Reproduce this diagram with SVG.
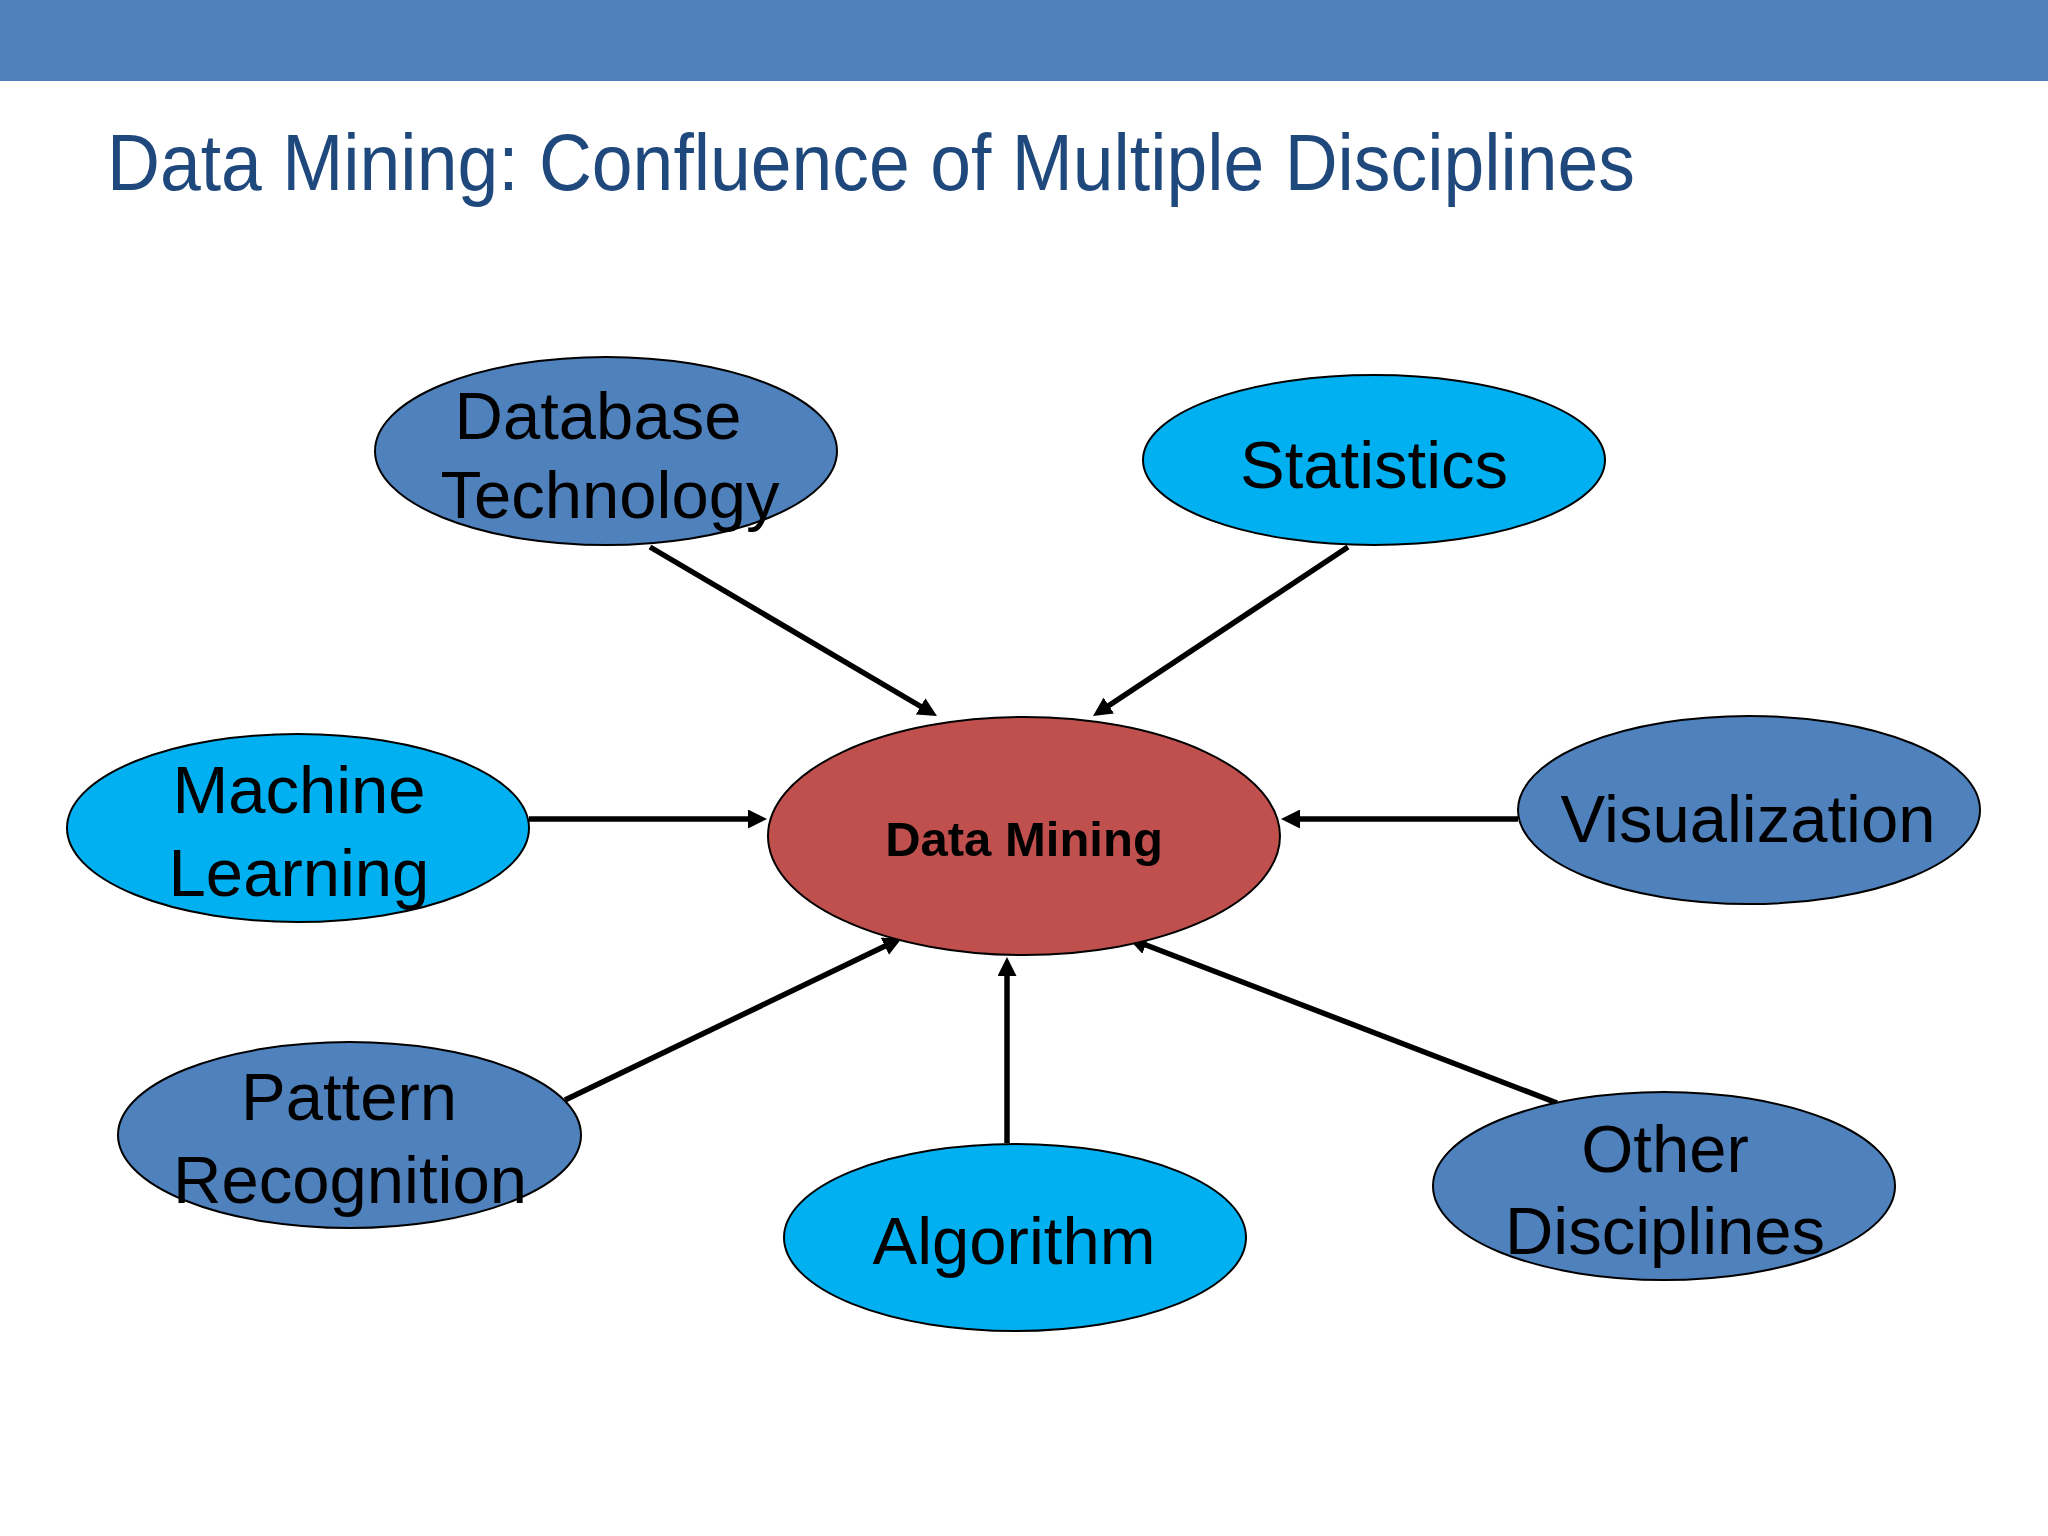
<svg xmlns="http://www.w3.org/2000/svg" width="2048" height="1536" viewBox="0 0 2048 1536">
<style>
.node ellipse{stroke:#000;stroke-width:2}
.dark{fill:#4F81BD}
.light{fill:#00B0F0}
.center{fill:#C0504D}
.lbl{font-family:"Liberation Sans",Arial,sans-serif;font-size:67px;fill:#000;text-anchor:middle}
.bold{font-family:"Liberation Sans",Arial,sans-serif;font-size:49px;font-weight:bold;fill:#000;text-anchor:middle}
.edge{stroke:#000;stroke-width:5.5;fill:none;marker-end:url(#ah)}
</style>
<defs>
<marker id="ah" markerUnits="userSpaceOnUse" markerWidth="19" markerHeight="19" refX="13" refY="9.5" orient="auto">
<path d="M0,0 L19,9.5 L0,19 z" fill="#000"/>
</marker>
</defs>
<rect x="0" y="0" width="2048" height="1536" fill="#fff"/>
<rect x="0" y="0" width="2048" height="81" fill="#4F81BD"/>
<text x="107" y="190" font-family="Liberation Sans, Arial, sans-serif" font-size="80" fill="#1F497D" textLength="1528" lengthAdjust="spacingAndGlyphs">Data Mining: Confluence of Multiple Disciplines</text>

<g id="connectors">
<line class="edge" x1="650" y1="547" x2="931.8" y2="713"/>
<line class="edge" x1="1348" y1="547" x2="1098" y2="712.7"/>
<line class="edge" x1="529" y1="819" x2="761" y2="819"/>
<line class="edge" x1="1518" y1="819" x2="1287" y2="819"/>
<line class="edge" x1="565" y1="1100" x2="896.6" y2="940.6"/>
<line class="edge" x1="1007" y1="1143" x2="1007" y2="963"/>
<line class="edge" x1="1557" y1="1103" x2="1133.6" y2="940.2"/>
</g>

<g id="data-mining" class="node">
<ellipse class="center" cx="1024" cy="836" rx="256" ry="119"/>
<text class="bold" x="1024" y="856">Data Mining</text>
</g>
<g id="database-technology" class="node">
<ellipse class="dark" cx="606" cy="451" rx="231" ry="94"/>
<text class="lbl" x="598" y="439">Database</text>
<text class="lbl" x="610" y="518">Technology</text>
</g>
<g id="statistics" class="node">
<ellipse class="light" cx="1374" cy="460" rx="231" ry="85"/>
<text class="lbl" x="1374" y="488">Statistics</text>
</g>
<g id="machine-learning" class="node">
<ellipse class="light" cx="298" cy="828" rx="231" ry="94"/>
<text class="lbl" x="299" y="813">Machine</text>
<text class="lbl" x="299" y="896">Learning</text>
</g>
<g id="visualization" class="node">
<ellipse class="dark" cx="1749" cy="810" rx="231" ry="94"/>
<text class="lbl" x="1748" y="842">Visualization</text>
</g>
<g id="pattern-recognition" class="node">
<ellipse class="dark" cx="349.5" cy="1135" rx="231.5" ry="93"/>
<text class="lbl" x="349" y="1120">Pattern</text>
<text class="lbl" x="350" y="1203">Recognition</text>
</g>
<g id="algorithm" class="node">
<ellipse class="light" cx="1015" cy="1237.5" rx="231" ry="93.5"/>
<text class="lbl" x="1014" y="1264">Algorithm</text>
</g>
<g id="other-disciplines" class="node">
<ellipse class="dark" cx="1664" cy="1186" rx="231" ry="94"/>
<text class="lbl" x="1665" y="1172">Other</text>
<text class="lbl" x="1665" y="1254">Disciplines</text>
</g>
</svg>
